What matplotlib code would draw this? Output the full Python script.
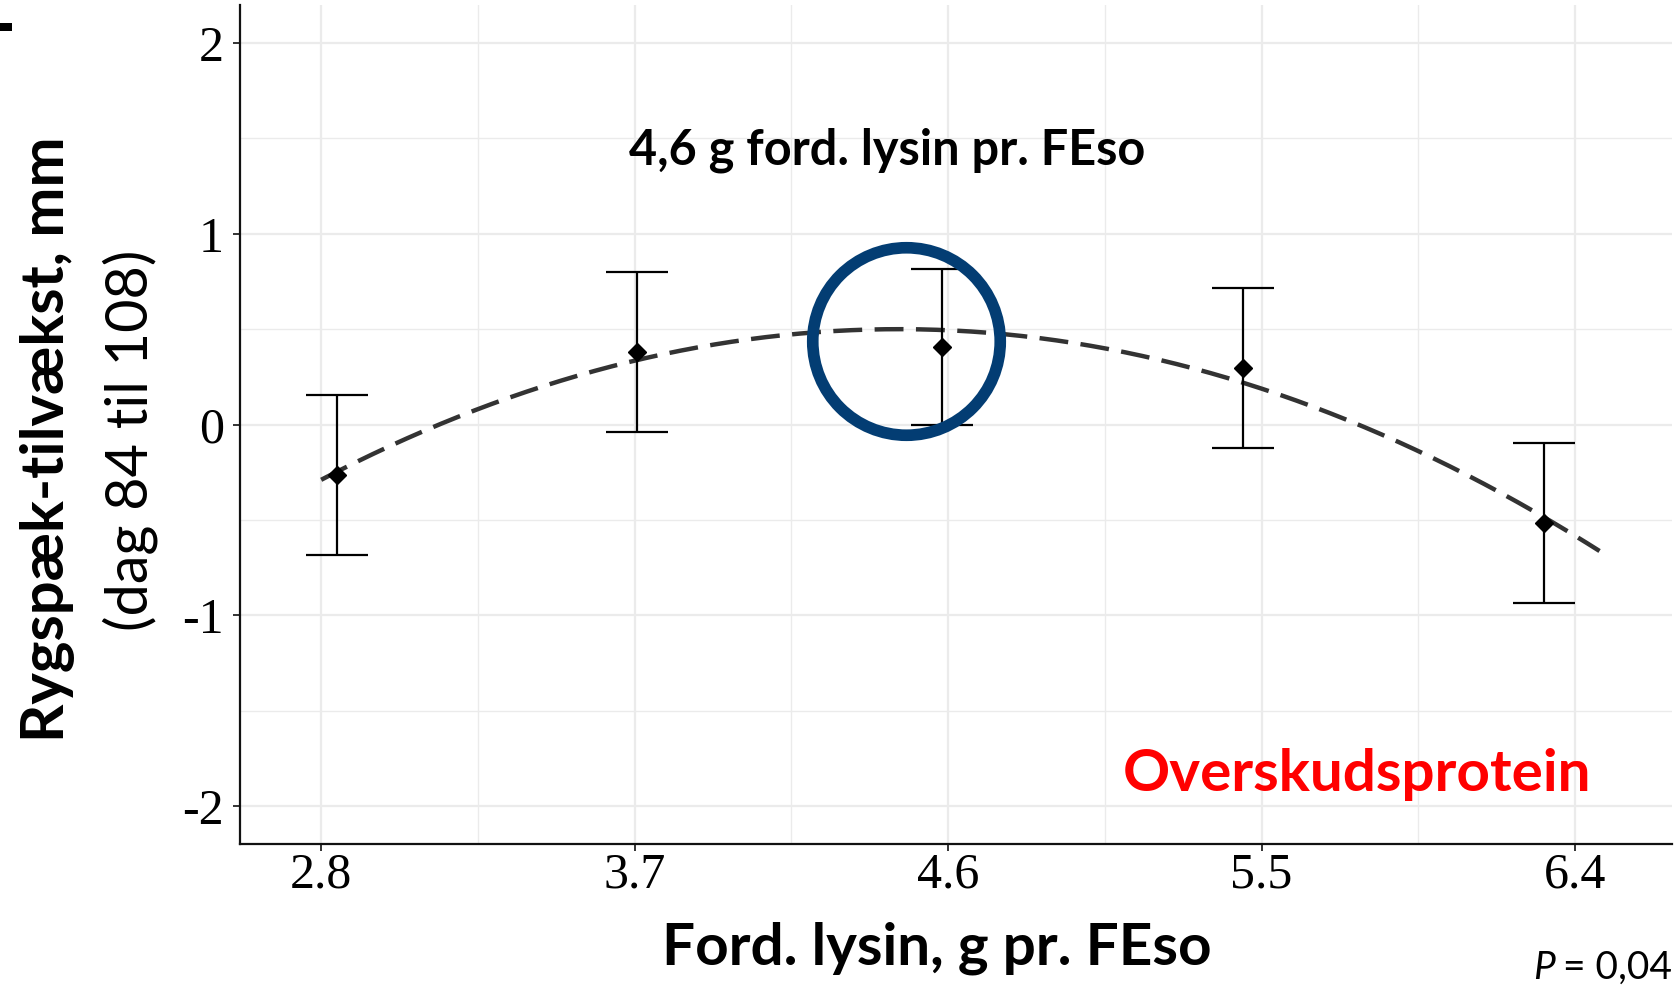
import numpy as np
import matplotlib
matplotlib.use("Agg")
import matplotlib.pyplot as plt
from matplotlib.patches import Rectangle

# ---------------- data ----------------
lysine = [2.845, 3.708, 4.582, 5.445, 6.311]        # g ford. lysin pr. FEso
backfat_gain = [-0.265, 0.382, 0.408, 0.295, -0.518]  # mm
backfat_err = [0.42, 0.42, 0.41, 0.42, 0.42]          # +/- error

# fitted quadratic (vertex form)
fit_vertex_x = 4.458
fit_vertex_y = 0.50
fit_curvature = -0.2874
fit_range = [2.80, 6.47]

xticks = [2.8, 3.7, 4.6, 5.5, 6.4]
xtick_labels = ["2.8", "3.7", "4.6", "5.5", "6.4"]
yticks = [-2, -1, 0, 1, 2]
ytick_labels = ["-2", "-1", "0", "1", "2"]

optimum_label = "4,6 g ford. lysin pr. FEso"
group_label = "Overskudsprotein"
xlabel = "Ford. lysin, g pr. FEso"
ylabel_1 = "Rygspæk-tilvækst, mm"
ylabel_2 = "(dag 84 til 108)"
p_symbol = "P"
p_value = " = 0,04"

# ---------------- figure ----------------
W, H = 1680, 988
fig = plt.figure(figsize=(W / 100, H / 100), dpi=100)
ax = fig.add_axes([240 / W, 1 - 844 / H, (1672 - 240) / W, (844 - 5) / H])

sans = ["Lato", "DejaVu Sans"]
serif = ["Liberation Serif", "DejaVu Serif"]

ax.set_xlim(2.567, 6.678)
ax.set_ylim(-2.2, 2.2)

# grid
grid_c = "#ebebeb"
ax.set_xticks(xticks)
ax.set_xticks([3.25, 4.15, 5.05, 5.95], minor=True)
ax.set_yticks(yticks)
ax.set_yticks([-1.5, -0.5, 0.5, 1.5], minor=True)
ax.grid(True, which="major", color=grid_c, lw=1.6, zorder=0)
ax.grid(True, which="minor", color=grid_c, lw=1.0, zorder=0)
ax.set_axisbelow(True)
ax.tick_params(which="minor", length=0)

ax.set_xticklabels(xtick_labels, fontfamily=serif, fontsize=36)
ax.set_yticklabels(ytick_labels, fontfamily=serif, fontsize=36)
ax.tick_params(axis="x", which="major", length=5, width=1.4, color="#333333", pad=0.5)
ax.tick_params(axis="y", which="major", length=5, width=1.4, color="#333333", pad=6.5)

for s in ["top", "right"]:
    ax.spines[s].set_visible(False)
for s in ["left", "bottom"]:
    ax.spines[s].set_color("#111111")
    ax.spines[s].set_linewidth(1.6)

# fitted curve
xc = np.linspace(fit_range[0], fit_range[1], 300)
yc = fit_vertex_y + fit_curvature * (xc - fit_vertex_x) ** 2
ax.plot(xc, yc, color="#333333", lw=3.2, dashes=(6.5, 2.8), zorder=3)

# error bars and points
ax.errorbar(lysine, backfat_gain, yerr=backfat_err, fmt="D", color="black",
            ms=9, ecolor="black", elinewidth=1.6, capsize=22, capthick=1.6, zorder=4)

# highlight circle
ax.plot([4.479], [0.439], marker="o", ms=135, mfc="none", mec="#033d73",
        mew=8.4, zorder=5, clip_on=False)

# annotations
ax.text(4.425, 1.44, optimum_label, fontfamily=sans, fontweight="bold",
        fontsize=35, ha="center", va="center", color="black")
ax.text(6.446, -1.835, group_label, fontfamily=sans, fontweight="bold",
        fontsize=42, ha="right", va="center", color="#ff0000")

fig.text(937 / W, 1 - 948 / H, xlabel, fontfamily=sans, fontweight="bold",
         fontsize=42, ha="center", va="center")
fig.text(48 / W, 1 - 439 / H, ylabel_1, fontfamily=sans, fontweight="bold",
         fontsize=43, ha="center", va="center", rotation=90)
fig.text(130 / W, 1 - 440 / H, ylabel_2, fontfamily=sans,
         fontsize=41.5, ha="center", va="center", rotation=90)

# P-value (italic P), kept just inside the bottom edge
pv = fig.text(1672 / W, 1 - 979 / H, p_value, fontfamily=sans,
              fontsize=28, ha="right", va="baseline")
renderer = fig.canvas.get_renderer()
bb = pv.get_window_extent(renderer)
fig.text((bb.x0 + 2) / W, 1 - 979 / H, p_symbol, fontfamily=sans, fontstyle="italic",
         fontsize=28, ha="right", va="baseline")

# small black mark at top-left corner (part of the original slide)
fig.patches.append(Rectangle((0, 1 - 31 / H), 12 / W, 8 / H, transform=fig.transFigure,
                             facecolor="black", edgecolor="none"))

fig.savefig("out.png", dpi=100)
